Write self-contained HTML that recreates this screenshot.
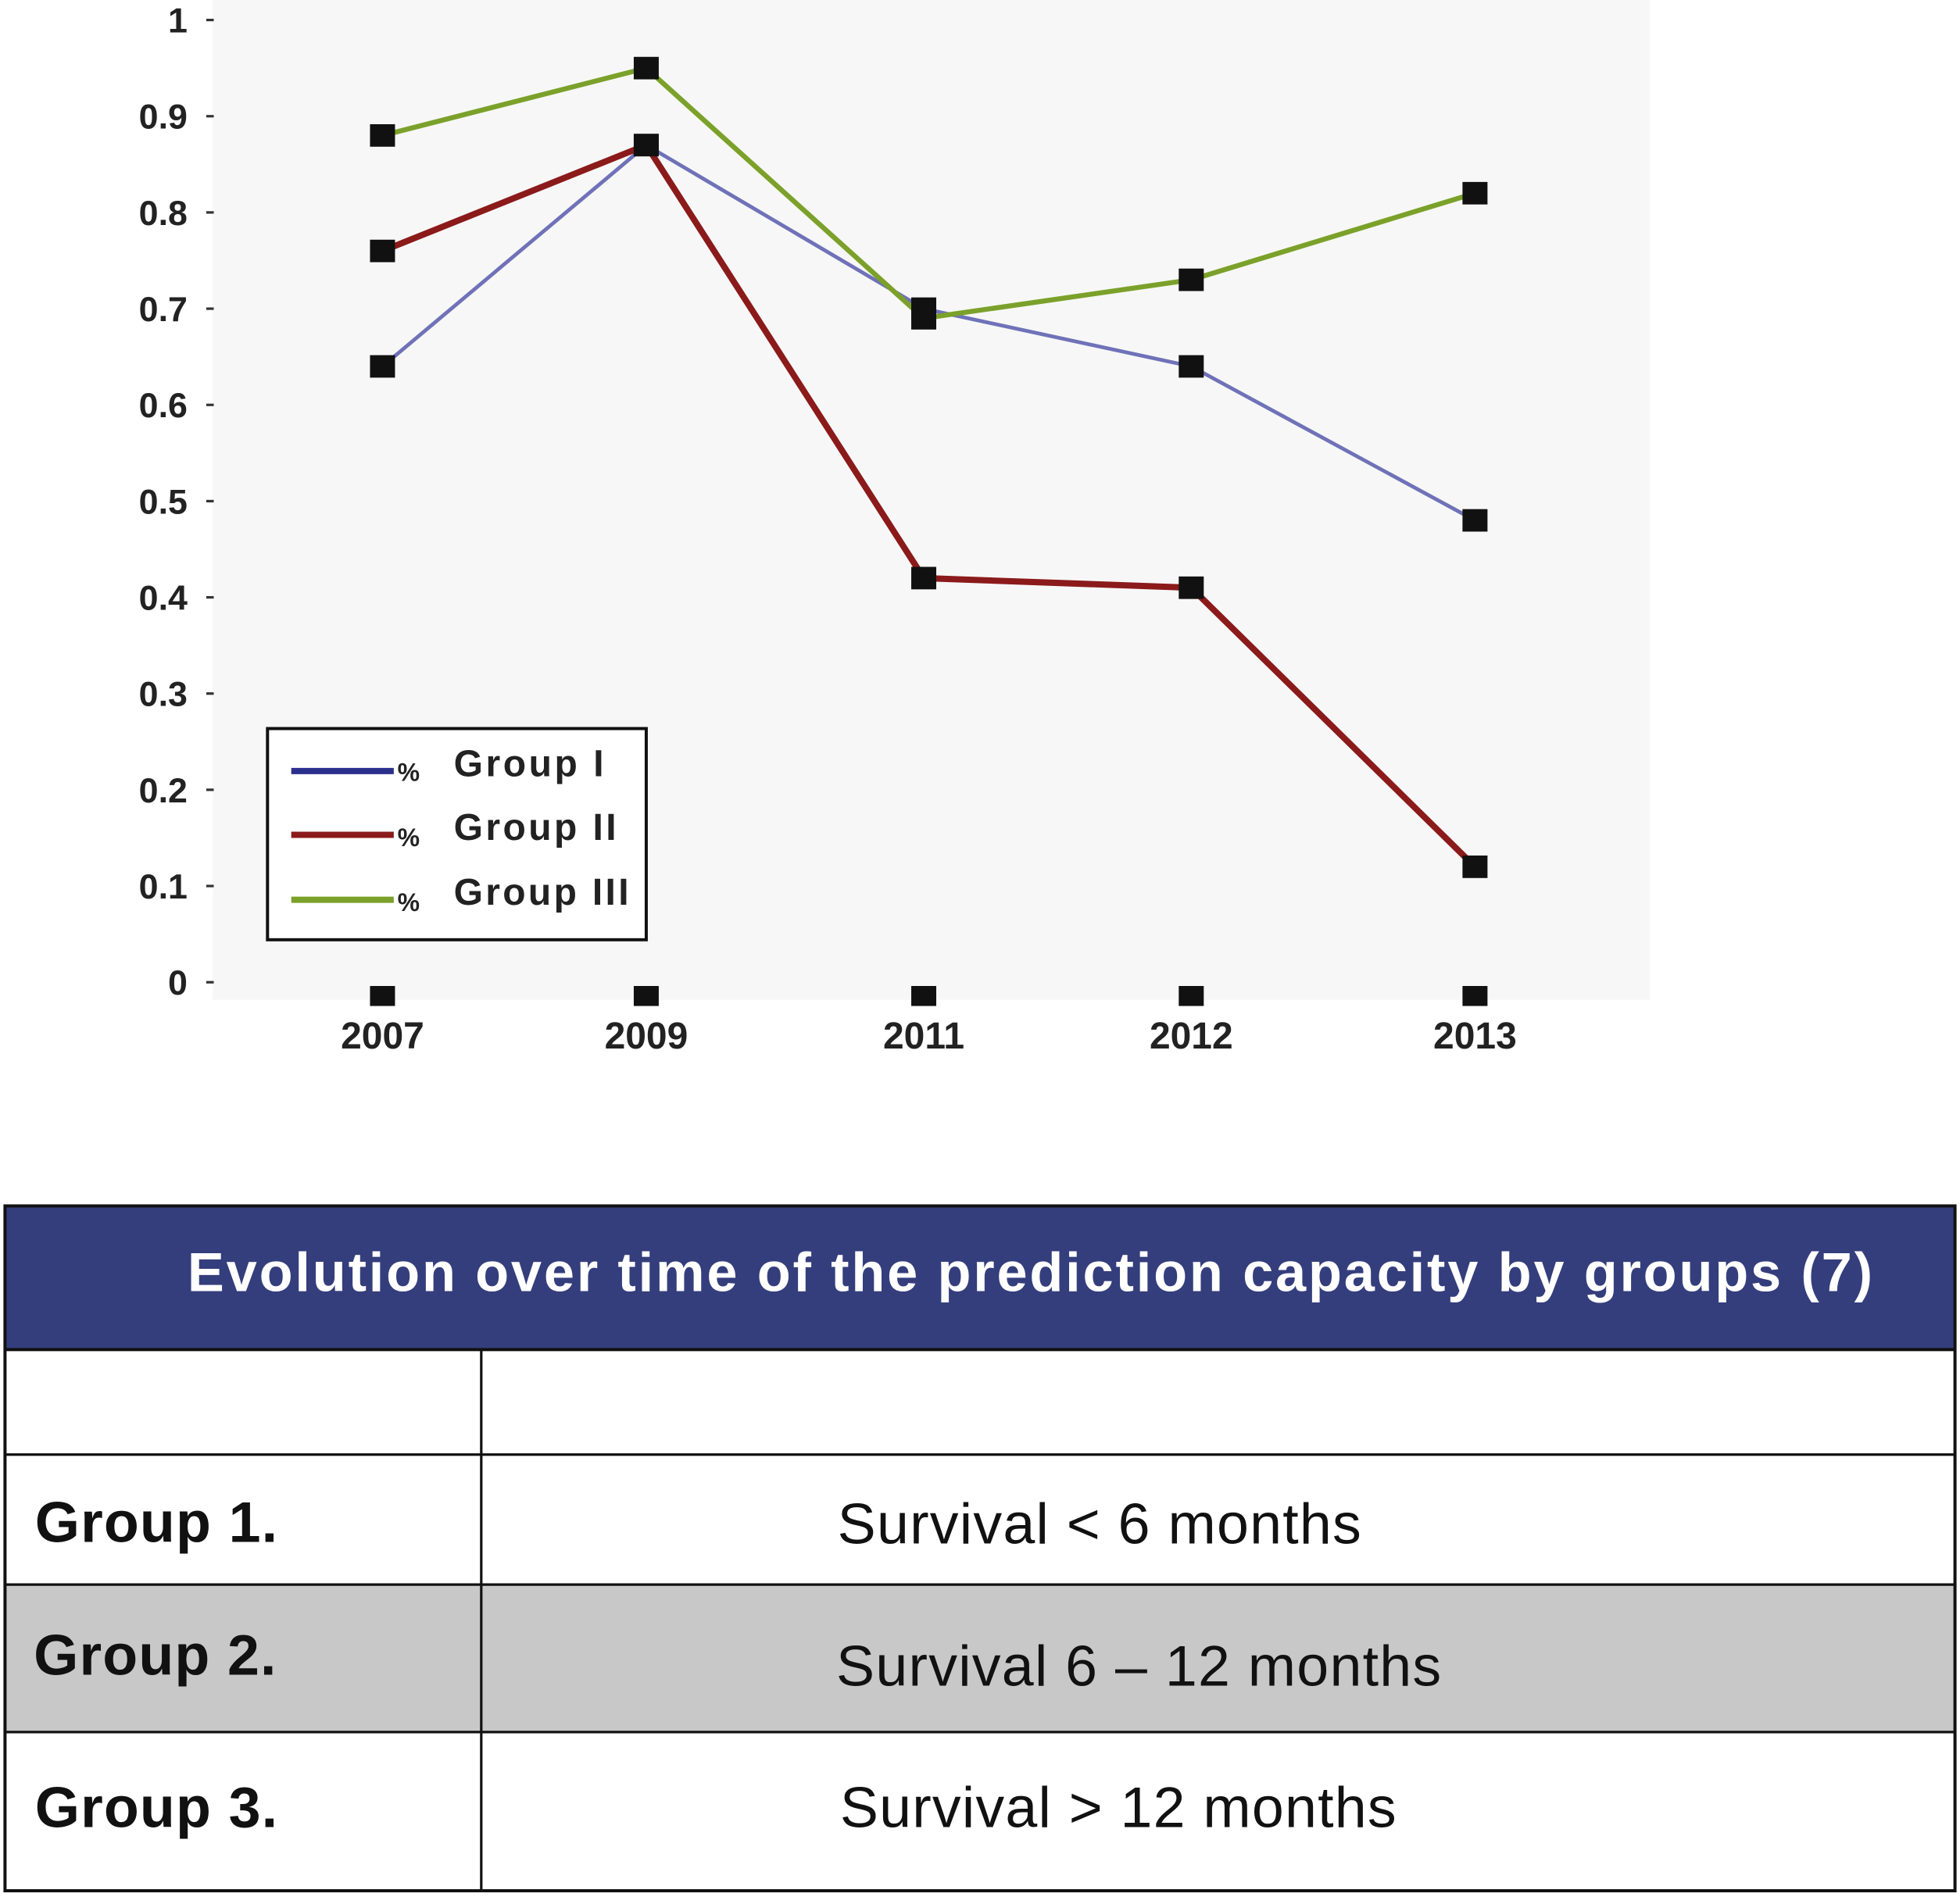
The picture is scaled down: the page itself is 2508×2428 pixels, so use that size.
<!DOCTYPE html>
<html><head><meta charset="utf-8"><style>
html,body{margin:0;padding:0;background:#fff}
svg{display:block}
text{font-family:"Liberation Sans",sans-serif}
</style></head><body>
<svg id="chart" width="2508" height="2428" viewBox="0 0 1568 1518" xmlns="http://www.w3.org/2000/svg">
<rect x="170" y="0" width="1150" height="800" fill="#f7f7f7"/>
<g id="axes"></g>
<g id="series"></g>
<g>
<rect x="214" y="583" width="303" height="169" fill="#fff" stroke="#111" stroke-width="2.5"/>
<line x1="233" y1="617" x2="315" y2="617" stroke="#2b2f8e" stroke-width="5"/>
<text x="318" y="625" font-size="20" font-weight="bold" fill="#222">%</text>
<text x="363" y="621" font-size="30" font-weight="bold" fill="#222" textLength="120">Group I</text>
<line x1="233" y1="668" x2="315" y2="668" stroke="#8b1a1a" stroke-width="5"/>
<text x="318" y="677" font-size="20" font-weight="bold" fill="#222">%</text>
<text x="363" y="672" font-size="30" font-weight="bold" fill="#222" textLength="130">Group II</text>
<line x1="233" y1="720" x2="315" y2="720" stroke="#7ba12a" stroke-width="5"/>
<text x="318" y="729" font-size="20" font-weight="bold" fill="#222">%</text>
<text x="363" y="724" font-size="30" font-weight="bold" fill="#222" textLength="140">Group III</text>
</g>
<g>
<rect x="4" y="965" width="1560" height="115" fill="#353e7c"/>
<text x="150" y="1033" font-size="44" font-weight="bold" fill="#fff" textLength="1348">Evolution over time of the prediction capacity by groups (7)</text>
<rect x="4" y="1268" width="1560" height="118" fill="#c8c8c8"/>
<rect x="4" y="965" width="1560" height="548" fill="none" stroke="#111" stroke-width="2.5"/>
<line x1="4" y1="1080" x2="1564" y2="1080" stroke="#111" stroke-width="2.5"/>
<line x1="4" y1="1164" x2="1564" y2="1164" stroke="#111" stroke-width="2"/>
<line x1="4" y1="1268" x2="1564" y2="1268" stroke="#111" stroke-width="2"/>
<line x1="4" y1="1386" x2="1564" y2="1386" stroke="#111" stroke-width="2"/>
<line x1="385" y1="1080" x2="385" y2="1513" stroke="#111" stroke-width="2"/>
<text x="28" y="1234" font-size="46" font-weight="bold" fill="#111" textLength="194">Group 1.</text>
<text x="670" y="1235" font-size="46" fill="#111" textLength="419">Survival &lt; 6 months</text>
<text x="27" y="1340" font-size="46" font-weight="bold" fill="#111" textLength="194">Group 2.</text>
<text x="669" y="1349" font-size="46" fill="#111" textLength="484">Survival 6 – 12 months</text>
<text x="28" y="1462" font-size="46" font-weight="bold" fill="#111" textLength="194">Group 3.</text>
<text x="672" y="1462" font-size="46" fill="#111" textLength="445">Survival &gt; 12 months</text>
</g>
</svg>
<script>
const categories = ["2007","2009","2011","2012","2013"];
const group1 = [0.64,0.87,0.70,0.64,0.48];
const group2 = [0.76,0.87,0.42,0.41,0.12];
const group3 = [0.88,0.95,0.69,0.73,0.82];
const yTicks = [0,0.1,0.2,0.3,0.4,0.5,0.6,0.7,0.8,0.9,1];
const yTickLabels = ["0","0.1","0.2","0.3","0.4","0.5","0.6","0.7","0.8","0.9","1"];
const NS="http://www.w3.org/2000/svg";
const catX=[306,517,739,953,1180];
function x(i){return catX[i];}
function y(v){return 786-v*770;}
const axes=document.getElementById('axes'), ser=document.getElementById('series');
function mk(tag,attrs,parent){const e=document.createElementNS(NS,tag);for(const k in attrs)e.setAttribute(k,attrs[k]);parent.appendChild(e);return e;}
yTicks.forEach((t,i)=>{
  const l=mk('line',{x1:165,x2:171,y1:y(t),y2:y(t),stroke:'#333','stroke-width':2},axes);
  
  
  const tx=mk('text',{x:150,y:y(t)+10,'text-anchor':'end','font-size':28,'font-weight':'bold',fill:'#222'},axes);
  tx.textContent=yTickLabels[i];
  
  
});
categories.forEach((c,i)=>{
  const r=mk('rect',{x:x(i)-10,y:789,width:20,height:16,fill:'#111'},axes);
  
  
  const tx=mk('text',{x:x(i),y:839,'text-anchor':'middle','font-size':30,'font-weight':'bold',fill:'#222'},axes);
  tx.textContent=c;
  
  
});
[[group1,'#6f72b8',3,'group-1'],[group2,'#8b1a1a',5,'group-2'],[group3,'#7ba12a',4,'group-3']].forEach(([d,col,w,n])=>{
  const p=mk('polyline',{points:d.map((v,i)=>x(i)+','+y(v)).join(' '),fill:'none',stroke:col,'stroke-width':w},ser);
  
  
});
[group1,group2,group3].forEach((d,k)=>{
  d.forEach((v,i)=>{
    const r=mk('rect',{x:x(i)-10,y:y(v)-9,width:20,height:18,fill:'#111'},ser);
    
    
  });
});
</script>
</body></html>
